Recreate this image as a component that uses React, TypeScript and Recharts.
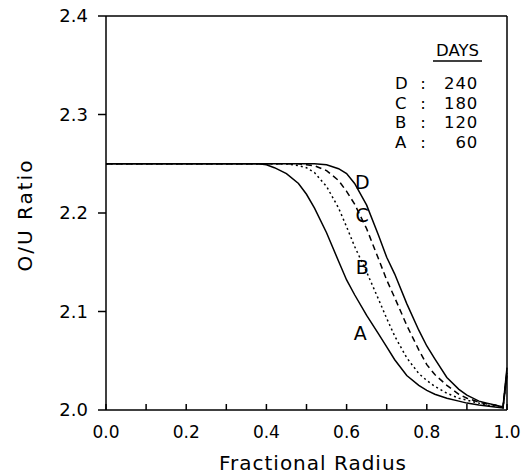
import React from 'react';
import { LineChart, Line, XAxis, YAxis, ReferenceLine, ReferenceDot, Customized } from 'recharts';

const radius = [0, 0.1, 0.2, 0.3, 0.35, 0.38, 0.4, 0.42, 0.45, 0.48, 0.5, 0.52, 0.55, 0.58, 0.6, 0.62, 0.65, 0.68, 0.7, 0.72, 0.75, 0.78, 0.8, 0.82, 0.85, 0.88, 0.9, 0.93, 0.95, 0.97, 0.99, 1.0];
const curveA = [2.25, 2.25, 2.25, 2.25, 2.25, 2.25, 2.249, 2.246, 2.240, 2.230, 2.219, 2.205, 2.180, 2.151, 2.132, 2.117, 2.096, 2.077, 2.064, 2.051, 2.035, 2.025, 2.020, 2.016, 2.012, 2.009, 2.007, 2.005, 2.004, 2.003, 2.002, 2.035];
const curveB = [2.25, 2.25, 2.25, 2.25, 2.25, 2.25, 2.25, 2.25, 2.25, 2.248, 2.246, 2.241, 2.227, 2.205, 2.186, 2.166, 2.140, 2.112, 2.093, 2.075, 2.053, 2.037, 2.030, 2.024, 2.017, 2.012, 2.010, 2.007, 2.005, 2.004, 2.002, 2.038];
const curveC = [2.25, 2.25, 2.25, 2.25, 2.25, 2.25, 2.25, 2.25, 2.25, 2.25, 2.249, 2.248, 2.243, 2.233, 2.222, 2.209, 2.184, 2.153, 2.132, 2.114, 2.086, 2.061, 2.046, 2.036, 2.025, 2.016, 2.012, 2.008, 2.006, 2.005, 2.003, 2.040];
const curveD = [2.25, 2.25, 2.25, 2.25, 2.25, 2.25, 2.25, 2.25, 2.25, 2.25, 2.25, 2.25, 2.249, 2.245, 2.240, 2.230, 2.208, 2.177, 2.155, 2.138, 2.108, 2.081, 2.065, 2.052, 2.033, 2.021, 2.015, 2.009, 2.007, 2.005, 2.003, 2.043];

const xTicks = [0, 0.1, 0.2, 0.3, 0.4, 0.5, 0.6, 0.7, 0.8, 0.9, 1.0];
const xLabelTicks = [0, 0.2, 0.4, 0.6, 0.8, 1.0];
const yTicks = [2.0, 2.1, 2.2, 2.3, 2.4];
const legendRows = [
  { key: 'D', days: '240' },
  { key: 'C', days: '180' },
  { key: 'B', days: '120' },
  { key: 'A', days: '60' },
];
const curveLabels = [
  { key: 'D', x: 0.639, y: 2.2315 },
  { key: 'C', x: 0.639, y: 2.198 },
  { key: 'B', x: 0.639, y: 2.145 },
  { key: 'A', x: 0.634, y: 2.078 },
];

const data = radius.map((r, i) => ({ r, A: curveA[i], B: curveB[i], C: curveC[i], D: curveD[i] }));

const FONT = '"DejaVu Sans", sans-serif';

const XTick = (props: any) => {
  const { x, y, payload } = props;
  const v = payload.value;
  const showLabel = xLabelTicks.some((t) => Math.abs(t - v) < 1e-6);
  return (
    <g>
      <line x1={x} y1={y} x2={x} y2={y - 6} stroke="#000" strokeWidth={1.5} />
      {showLabel && (
        <text x={x} y={y + 28} textAnchor="middle" fontSize={17} fontFamily={FONT} fill="#000">
          {v.toFixed(1)}
        </text>
      )}
    </g>
  );
};

const Overlay = () => (
  <g fontFamily={FONT} fill="#000">
    <text x={313} y={470} textAnchor="middle" fontSize={20} letterSpacing={1}>Fractional Radius</text>
    <text x={32} y={215} textAnchor="middle" fontSize={20} letterSpacing={2} transform="rotate(-90 32 215)">O/U Ratio</text>
    <text x={457.5} y={56} textAnchor="middle" fontSize={16.5}>DAYS</text>
    <line x1={433} y1={61} x2={482} y2={61} stroke="#000" strokeWidth={1.5} />
    {legendRows.map((row, i) => {
      const yy = 89 + i * 19.5;
      return (
        <g key={row.key}>
          <text x={395} y={yy} fontSize={16.5}>{row.key}</text>
          <text x={423} y={yy} fontSize={16.5} textAnchor="middle">:</text>
          <text x={478} y={yy} fontSize={16.5} textAnchor="end" letterSpacing={0.8}>{row.days}</text>
        </g>
      );
    })}
  </g>
);

export default function App() {
  return (
    <div style={{ position: 'absolute', left: 0, top: 0, background: '#fff' }}>
      <LineChart width={521} height={475} data={data} margin={{ top: 16, right: 14, left: 0, bottom: 0 }}>
        <XAxis
          dataKey="r"
          type="number"
          domain={[0, 1]}
          ticks={xTicks}
          interval={0}
          height={65}
          tickSize={0}
          tickMargin={0}
          tickLine={false}
          axisLine={{ stroke: '#000', strokeWidth: 1.5 }}
          tick={<XTick />}
        />
        <YAxis
          type="number"
          domain={[2.0, 2.4]}
          ticks={yTicks}
          interval={0}
          width={106}
          tickSize={8}
          tickMargin={10}
          tickFormatter={(v: number) => v.toFixed(1)}
          tick={{ fontSize: 18, fill: '#000', fontFamily: FONT }}
          tickLine={{ stroke: '#000', strokeWidth: 1.5 }}
          axisLine={{ stroke: '#000', strokeWidth: 1.5 }}
        />
        <ReferenceLine y={2.4} stroke="#000" strokeWidth={1.5} />
        <ReferenceLine x={1.0} stroke="#000" strokeWidth={1.5} />
        <Line type="linear" dataKey="A" stroke="#000" strokeWidth={1.5} dot={false} isAnimationActive={false} />
        <Line type="linear" dataKey="B" stroke="#000" strokeWidth={1.5} strokeDasharray="2 3" dot={false} isAnimationActive={false} />
        <Line type="linear" dataKey="C" stroke="#000" strokeWidth={1.5} strokeDasharray="6 4" dot={false} isAnimationActive={false} />
        <Line type="linear" dataKey="D" stroke="#000" strokeWidth={1.5} dot={false} isAnimationActive={false} />
        {curveLabels.map((c) => (
          <ReferenceDot
            key={c.key}
            x={c.x}
            y={c.y}
            r={0}
            fill="none"
            stroke="none"
            label={{ value: c.key, position: 'center', fontSize: 19, fill: '#000', fontFamily: FONT }}
          />
        ))}
        <Customized component={<Overlay />} />
      </LineChart>
    </div>
  );
}
